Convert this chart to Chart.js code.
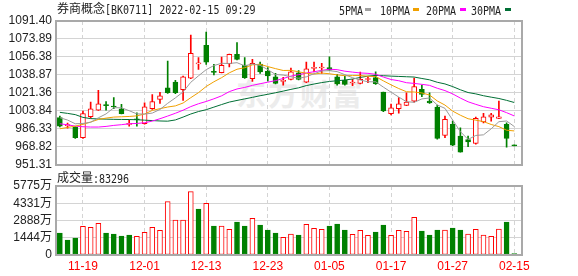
<!DOCTYPE html>
<html>
<head>
<meta charset="utf-8">
<script src="https://cdn.jsdelivr.net/npm/chart.js@4.4.1/dist/chart.umd.min.js"></script>
<style>
  html, body { margin: 0; padding: 0; background: #fff; }
  #wrap { position: relative; width: 578px; height: 276px; overflow: hidden; }
  canvas { position: absolute; left: 0; }
  #kline { top: 0; }
  #vol { top: 172px; }
  .txt { position: absolute; font: 12px "Noto Sans CJK SC", sans-serif; color: #222; line-height: 14px; white-space: nowrap; }
  .m { font: 10px "DejaVu Sans Mono", monospace; display: inline-block; transform: scaleY(1.2); }
  .dash { position: absolute; width: 6px; height: 3px; }
  #mark { position: absolute; left: 236px; top: 70px; font: bold 30px "Noto Sans CJK SC", sans-serif; color: #ececec; letter-spacing: 2px; }
</style>
</head>
<body>
<div id="wrap">
  <div id="mark">东方财富</div>
  <canvas id="kline" width="578" height="176"></canvas>
  <canvas id="vol" width="578" height="104"></canvas>
  <div class="txt" style="left:57px;top:1px">券商概念<span class="m">[BK0711] 2022-02-15 09:29</span></div>
  <div class="txt" style="left:339px;top:2px"><span class="m">5PMA</span></div>
  <div class="dash" style="left:365px;top:8px;background:#a0a0a0"></div>
  <div class="txt" style="left:380px;top:2px"><span class="m">10PMA</span></div>
  <div class="dash" style="left:413px;top:8px;background:#f0a000"></div>
  <div class="txt" style="left:426px;top:2px"><span class="m">20PMA</span></div>
  <div class="dash" style="left:460px;top:8px;background:#ff00ff"></div>
  <div class="txt" style="left:471px;top:2px"><span class="m">30PMA</span></div>
  <div class="dash" style="left:505px;top:8px;background:#006f35"></div>
  <div class="txt" style="left:57px;top:170px">成交量<span class="m">:83296</span></div>
</div>
<script>
// trading days shown in the window
const dates = ['11-16','11-17','11-18','11-19','11-22','11-23','11-24','11-25','11-26','11-29',
    '11-30','12-01','12-02','12-03','12-06','12-07','12-08','12-09','12-10','12-13',
    '12-14','12-15','12-16','12-17','12-20','12-21','12-22','12-23','12-24','12-27',
    '12-28','12-29','12-30','12-31','01-04','01-05','01-06','01-07','01-10','01-11',
    '01-12','01-13','01-14','01-17','01-18','01-19','01-20','01-21','01-24','01-25',
    '01-26','01-27','01-28','02-07','02-08','02-09','02-10','02-11','02-14','02-15'];
const tickDates = ['11-19','12-01','12-13','12-23','01-05','01-17','01-27','02-15'];

// daily candles
const openArr = [997.2, 989.5, 988.4, 977.7, 998.1, 1004.6, 1009.4, 1008.2, 1005.9, 990.7,
    995.9, 991.3, 1005.9, 1015.0, 1026.4, 1031.9, 1024.5, 1035.8, 1049.6, 1067.7,
    1042.0, 1041.0, 1049.8, 1058.9, 1048.5, 1035.2, 1049.5, 1042.3, 1037.1, 1032.6,
    1034.5, 1041.0, 1031.9, 1045.2, 1045.6, 1045.9, 1037.1, 1033.6, 1031.0, 1030.6,
    1034.4, 1036.2, 1022.2, 1001.1, 1005.9, 1009.2, 1013.4, 1024.8, 1013.4, 1007.6,
    979.9, 990.7, 979.3, 976.0, 972.2, 993.0, 997.8, 996.5, 990.7, 969.9];
const highArr = [998.8, 992.0, 988.6, 1003.7, 1012.4, 1023.8, 1012.8, 1016.7, 1010.2, 994.9,
    1002.0, 1011.8, 1019.6, 1021.9, 1052.4, 1033.6, 1037.8, 1077.8, 1055.7, 1080.7,
    1049.1, 1056.3, 1059.2, 1070.3, 1055.7, 1054.0, 1051.4, 1045.9, 1040.4, 1036.5,
    1045.6, 1043.0, 1051.4, 1051.4, 1050.1, 1056.6, 1039.4, 1037.8, 1034.5, 1041.7,
    1037.1, 1042.0, 1022.2, 1010.5, 1016.7, 1021.5, 1035.8, 1029.0, 1021.5, 1009.5,
    998.8, 993.9, 987.4, 979.3, 997.8, 1001.4, 1001.4, 1013.4, 992.3, 969.9];
const lowArr = [988.1, 987.1, 977.0, 977.0, 996.8, 1004.3, 1004.6, 1005.9, 1000.8, 989.0,
    989.0, 991.0, 1005.3, 1011.1, 1020.9, 1020.5, 1014.1, 1035.2, 1044.3, 1049.1,
    1038.8, 1040.7, 1046.6, 1053.4, 1035.5, 1032.6, 1040.4, 1032.9, 1030.0, 1029.0,
    1033.9, 1033.9, 1031.3, 1041.7, 1040.4, 1043.3, 1029.0, 1029.0, 1028.4, 1030.0,
    1031.3, 1029.7, 1003.0, 999.8, 1001.5, 1008.9, 1012.4, 1017.6, 1011.1, 976.4,
    977.7, 969.9, 963.7, 968.9, 971.5, 992.0, 993.9, 996.2, 968.6, 969.7];
const closeArr = [989.0, 990.0, 977.7, 1001.1, 1005.9, 1010.8, 1008.9, 1007.6, 1001.1, 991.6,
    995.2, 1007.9, 1012.8, 1018.6, 1021.5, 1021.5, 1037.1, 1059.9, 1050.0, 1051.4,
    1041.4, 1048.2, 1058.9, 1054.0, 1036.2, 1050.1, 1041.7, 1037.8, 1030.6, 1033.2,
    1042.0, 1034.5, 1044.9, 1045.8, 1046.2, 1043.6, 1030.2, 1029.6, 1031.6, 1034.6,
    1035.0, 1030.3, 1003.7, 1006.9, 1010.8, 1012.4, 1027.4, 1019.9, 1011.5, 977.0,
    995.5, 970.5, 963.7, 973.5, 996.5, 998.1, 1000.1, 998.1, 977.0, 969.8];

// moving averages as drawn
const ma5 = [997.2, 994.9, 991.3, 991.6, 992.7, 997.1, 1000.9, 1006.9, 1006.9, 1004.0,
    1000.9, 1000.7, 1001.7, 1005.2, 1011.2, 1016.5, 1022.3, 1031.7, 1038.0, 1044.0,
    1048.0, 1050.2, 1050.0, 1050.8, 1047.7, 1049.5, 1048.2, 1044.0, 1039.3, 1038.7,
    1037.1, 1035.6, 1037.0, 1040.1, 1042.7, 1043.0, 1042.1, 1039.1, 1036.2, 1033.9,
    1032.2, 1032.2, 1027.0, 1022.1, 1017.3, 1012.8, 1012.2, 1015.5, 1016.4, 1009.6,
    1006.3, 994.9, 983.6, 976.0, 979.9, 980.5, 986.4, 993.3, 994.0, 988.6];
const ma10 = [986.4, 987.7, 989.0, 990.7, 993.0, 995.5, 996.8, 997.8, 998.1, 998.4,
    999.0, 1000.8, 1004.3, 1006.0, 1007.6, 1008.7, 1011.5, 1016.7, 1021.6, 1027.6,
    1032.2, 1036.2, 1040.9, 1044.4, 1045.9, 1048.7, 1049.2, 1047.0, 1045.0, 1043.2,
    1043.3, 1041.9, 1040.5, 1039.7, 1040.7, 1040.0, 1038.9, 1038.1, 1038.2, 1038.3,
    1037.6, 1037.2, 1033.1, 1029.2, 1025.6, 1022.5, 1022.2, 1021.3, 1019.3, 1013.5,
    1009.5, 1003.6, 999.6, 996.2, 994.8, 993.4, 990.6, 988.5, 985.0, 984.3];
const ma20 = [991.3, 990.3, 989.0, 988.4, 988.1, 988.1, 988.7, 989.7, 990.4, 991.3,
    991.6, 992.3, 993.9, 996.2, 998.8, 1001.5, 1004.5, 1008.0, 1010.8, 1013.0,
    1015.6, 1018.5, 1022.6, 1025.2, 1026.7, 1028.7, 1030.3, 1031.8, 1033.3, 1035.4,
    1037.7, 1039.1, 1040.7, 1042.0, 1043.3, 1044.4, 1044.0, 1042.5, 1041.6, 1040.8,
    1040.4, 1039.5, 1036.8, 1034.4, 1033.2, 1031.3, 1030.6, 1029.7, 1028.7, 1025.9,
    1023.6, 1020.4, 1016.3, 1012.7, 1010.2, 1007.9, 1006.4, 1004.9, 1002.1, 998.9];
const ma30 = [1002.4, 1001.4, 1000.2, 997.5, 996.3, 996.0, 995.8, 995.6, 995.5, 995.4,
    995.2, 994.8, 994.4, 994.0, 993.8, 995.0, 997.8, 1000.8, 1003.2, 1005.0,
    1007.5, 1010.0, 1012.4, 1014.0, 1015.5, 1017.0, 1018.6, 1020.0, 1021.5, 1023.1,
    1024.8, 1026.3, 1028.5, 1030.0, 1031.4, 1032.5, 1033.2, 1033.9, 1034.9, 1036.4,
    1037.7, 1038.4, 1038.1, 1037.7, 1037.4, 1037.1, 1036.8, 1035.4, 1034.1, 1031.7,
    1030.1, 1027.5, 1024.4, 1021.7, 1020.4, 1018.6, 1017.2, 1015.9, 1014.1, 1012.0];

// volume in 万, and whether the bar is drawn red (1) or green (0)
const volume = [1841, 1256, 1423, 2399, 2316, 2651, 1841, 1758, 1590, 1674,
    1562, 1897, 2316, 2065, 4464, 2930, 2930, 5301, 3850, 4325,
    2427, 2427, 2148, 2762, 2427, 3069, 2511, 2093, 1841, 1479,
    1758, 1674, 2567, 2232, 2148, 2427, 2595, 2093, 1730, 2065,
    1646, 1925, 2511, 1646, 2065, 1981, 3153, 2009, 1674, 2093,
    2093, 2260, 2093, 1758, 2148, 1674, 1562, 2176, 2762, 112];
const volUp = [0,0,0,1,1,1,0,0,0,0, 1,1,1,1,1,1,1,1,0,1, 0,1,1,0,0,1,0,0,0,1,
    1,0,1,1,1,0,0,0,1,1, 1,0,0,1,1,1,1,0,0,0, 1,0,0,1,1,1,1,1,0,0];

const priceTicks = [951.31, 968.82, 986.33, 1003.84, 1021.36, 1038.87, 1056.38, 1073.89, 1091.40];
const volTicks = [0, 1444, 2888, 4331, 5775];

const UP = '#ff0000';
const DOWN = '#008000';
const GRID = '#d4d4d4';
const tickIdx = tickDates.map(d => dates.indexOf(d));

Chart.defaults.font.family = '"Liberation Sans", "Noto Sans CJK SC", sans-serif';
Chart.defaults.font.size = 12;
Chart.defaults.color = '#222';

// grey box round the plot area
const framePlugin = {
    id: 'frame',
    afterDraw(chart) {
        const { ctx, chartArea: a } = chart;
        ctx.save();
        ctx.strokeStyle = '#a9a9a9';
        ctx.lineWidth = 2;
        ctx.strokeRect(Math.round(a.left), Math.round(a.top), Math.round(a.right - a.left), Math.round(a.bottom - a.top));
        ctx.restore();
    }
};

const xScale = (showLabels) => ({
    type: 'linear',
    min: -0.5,
    max: 60,
    offset: false,
    afterBuildTicks: s => { s.ticks = tickIdx.map(v => ({ value: v })); },
    ticks: {
        display: showLabels,
        autoSkip: false,
        maxRotation: 0,
        padding: 4,
        color: UP,
        callback: v => dates[v]
    },
    grid: { color: GRID, drawTicks: false, offset: false },
    border: { display: false, dash: [4, 3] },
    afterFit: s => { s.height = showLabels ? 21 : 0; }
});

const isUp = i => closeArr[i] > openArr[i];

const maLine = (label, values, color) => ({
    type: 'line',
    label: label,
    data: values.map((v, i) => ({ x: i, y: v })),
    borderColor: color,
    borderWidth: 1,
    pointRadius: 0,
    tension: 0,
    order: 0
});

new Chart(document.getElementById('kline'), {
    type: 'bar',
    data: {
        datasets: [
            maLine('5PMA', ma5, '#9a9a9a'),
            maLine('10PMA', ma10, '#f0a000'),
            maLine('20PMA', ma20, '#ff00ff'),
            maLine('30PMA', ma30, '#006f35'),
            {
                label: 'body',
                data: openArr.map((o, i) => ({ x: i, y: [o, closeArr[i]] })),
                backgroundColor: openArr.map((o, i) => isUp(i) ? '#ffffff' : DOWN),
                borderColor: openArr.map((o, i) => isUp(i) ? UP : DOWN),
                borderWidth: 1,
                borderSkipped: false,
                barThickness: 5,
                minBarLength: 1,
                grouped: false,
                order: 1
            },
            {
                label: 'wick',
                data: lowArr.map((l, i) => ({ x: i, y: [l, highArr[i]] })),
                backgroundColor: lowArr.map((l, i) => isUp(i) ? UP : DOWN),
                barThickness: 1,
                minBarLength: 1,
                grouped: false,
                order: 2
            }
        ]
    },
    options: {
        responsive: false,
        animation: false,
        layout: { padding: { left: 0, right: 56, top: 21, bottom: 11 } },
        scales: {
            x: xScale(false),
            y: {
                min: 951.31,
                max: 1091.40,
                afterBuildTicks: s => { s.ticks = priceTicks.map(v => ({ value: v })); },
                ticks: { padding: 4, autoSkip: false, callback: v => v.toFixed(2) },
                grid: { color: GRID, drawTicks: false },
                border: { display: false },
                afterFit: s => { s.width = 56; }
            }
        },
        plugins: {
            legend: { display: false },
            tooltip: { enabled: false }
        }
    },
    plugins: [framePlugin]
});

new Chart(document.getElementById('vol'), {
    type: 'bar',
    data: {
        datasets: [{
            label: '成交量',
            data: volume.map((v, i) => ({ x: i, y: v })),
            backgroundColor: volUp.map(u => u ? '#ffffff' : DOWN),
            borderColor: volUp.map(u => u ? UP : DOWN),
            borderWidth: 1,
            borderSkipped: false,
            barThickness: 5,
            grouped: false
        }]
    },
    options: {
        responsive: false,
        animation: false,
        layout: { padding: { left: 0, right: 56, top: 14, bottom: 0 } },
        scales: {
            x: xScale(true),
            y: {
                min: 0,
                max: 5775,
                afterBuildTicks: s => { s.ticks = volTicks.map(v => ({ value: v })); },
                ticks: { padding: 4, autoSkip: false, callback: v => v === 0 ? '0' : v + '万' },
                grid: { color: GRID, drawTicks: false },
                border: { display: false },
                afterFit: s => { s.width = 56; }
            }
        },
        plugins: {
            legend: { display: false },
            tooltip: { enabled: false }
        }
    },
    plugins: [framePlugin]
});
</script>
</body>
</html>
